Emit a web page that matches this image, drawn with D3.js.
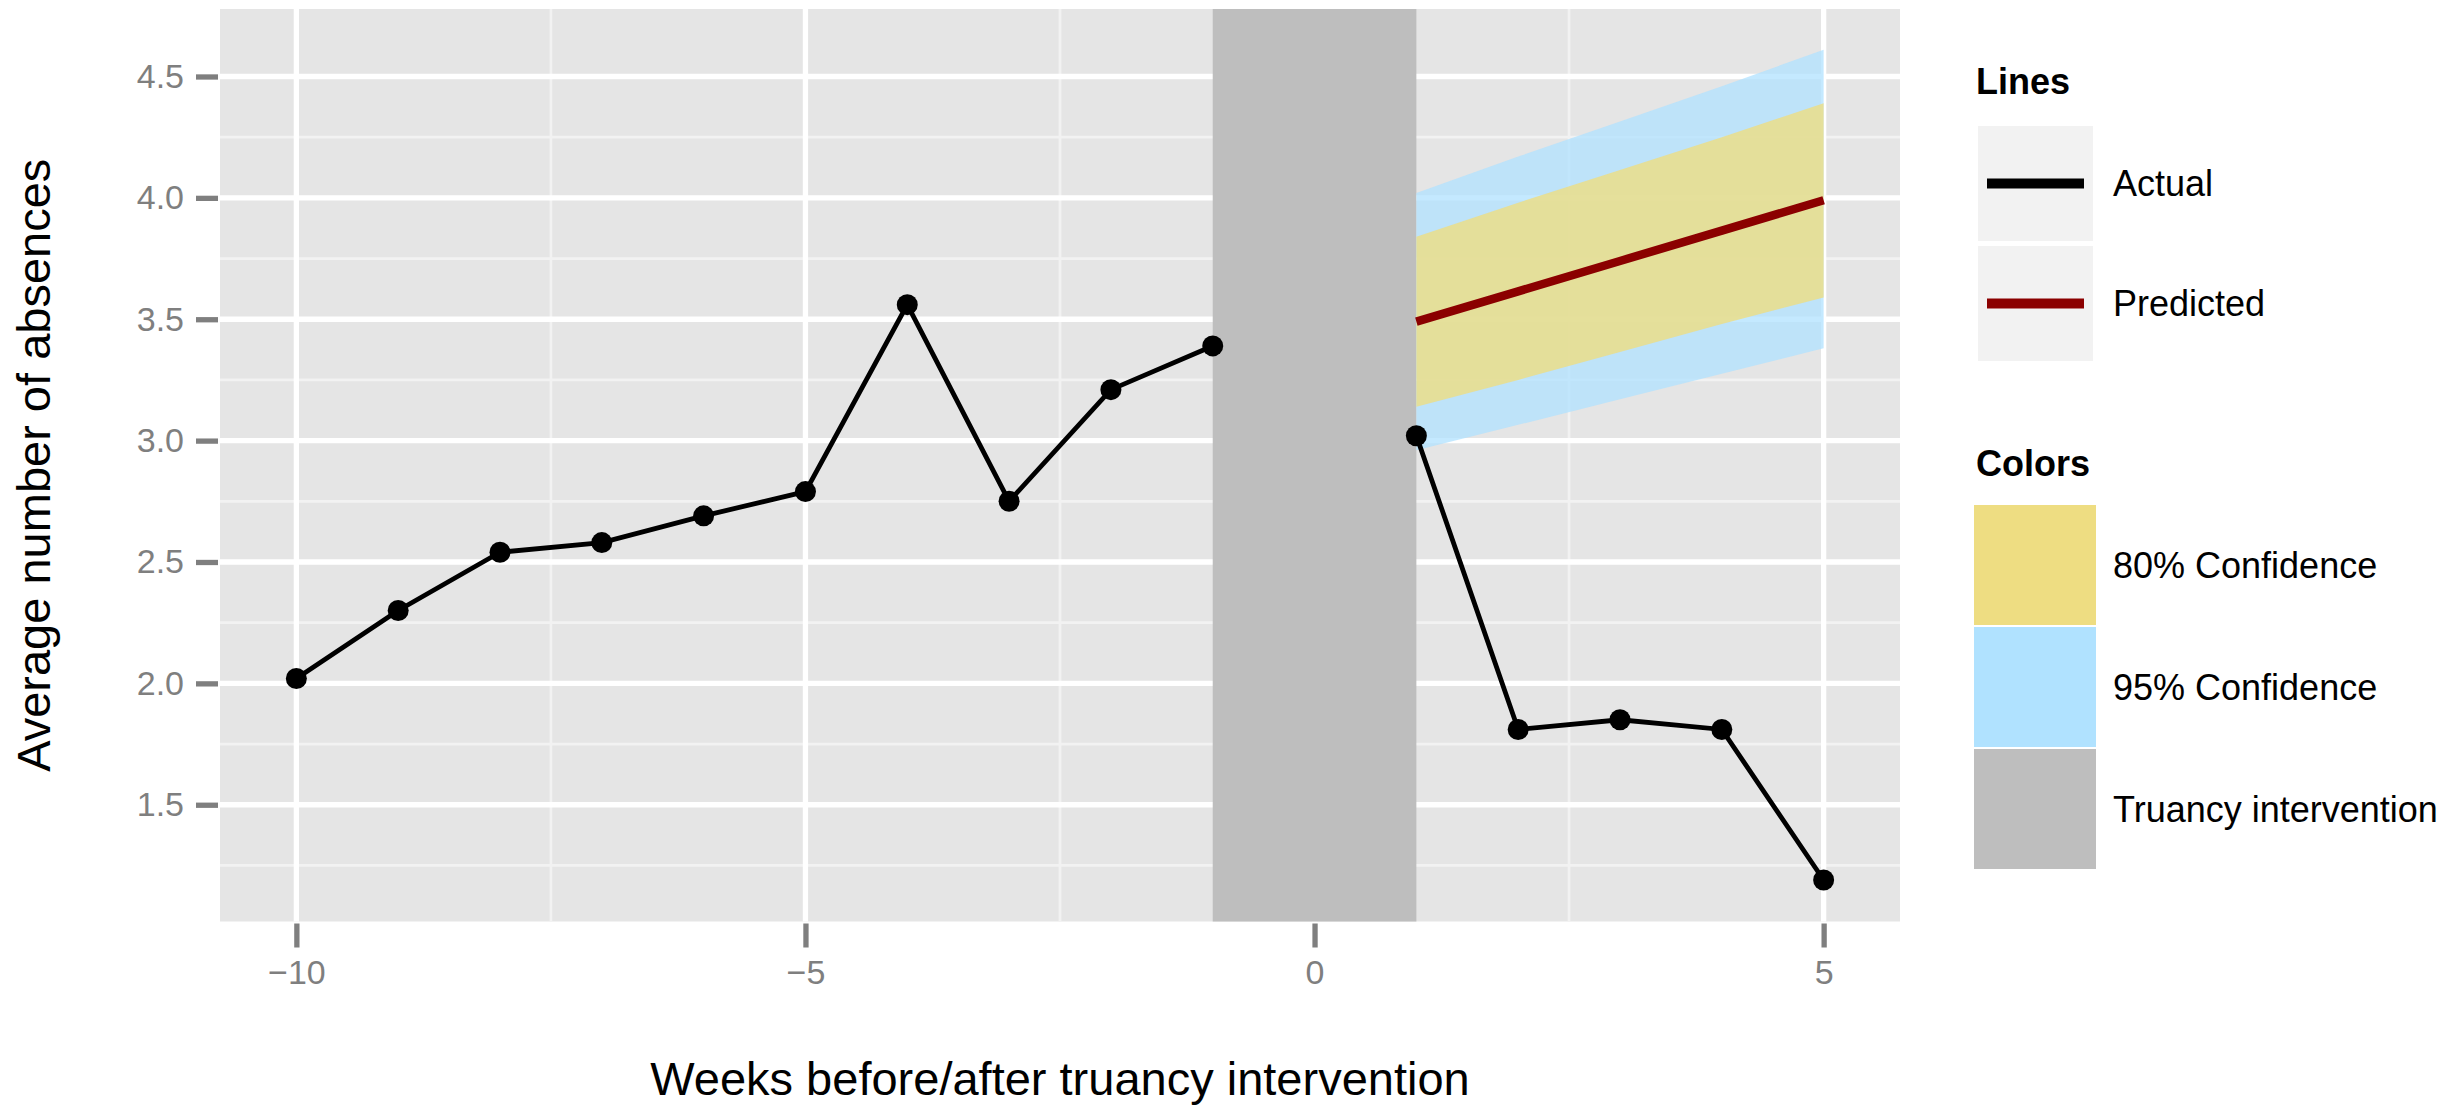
<!DOCTYPE html>
<html><head><meta charset="utf-8">
<script src="https://d3js.org/d3.v7.min.js"></script>
<style>
body{margin:0;background:#fff;}
text{font-family:"Liberation Sans",Arial,Helvetica,sans-serif;}
</style></head>
<body><svg id="chart"></svg>
<script>
// observed weekly averages (week 0 is the intervention itself)
const weeks=[-10,-9,-8,-7,-6,-5,-4,-3,-2,-1,1,2,3,4,5];
const absences=[2.02,2.30,2.54,2.58,2.69,2.79,3.56,2.75,3.21,3.39,3.02,1.81,1.85,1.81,1.19];
// forecast after the intervention
const predWeeks=[1,2,3,4,5];
const predicted=[3.49,3.615,3.74,3.865,3.99];
const lo80=[3.14,3.25,3.365,3.48,3.59];
const hi80=[3.84,3.98,4.115,4.25,4.39];
const lo95=[2.96,3.065,3.17,3.275,3.38];
const hi95=[4.02,4.17,4.315,4.46,4.61];
const intervention=[-1,1];
const xTicks=[-10,-5,0,5], xMinor=[-7.5,-2.5,2.5];
const yTicks=[1.5,2.0,2.5,3.0,3.5,4.0,4.5], yMinor=[1.25,1.75,2.25,2.75,3.25,3.75,4.25];
const lineKeys=['Actual','Predicted'], lineColors=['#000000','#8b0000'];
const fillKeys=['80% Confidence','95% Confidence','Truancy intervention'];
const fillColors=['#eedd82','#b0e2ff','#bebebe'];

const W=2446,H=1110;
const svg=d3.select('#chart').attr('width',W).attr('height',H);
const x=d3.scaleLinear().domain([-10.75,5.75]).range([220,1900]);
const y=d3.scaleLinear().domain([1.019,4.778]).range([921.5,9]);

// panel + grid
svg.append('rect').attr('x',x.range()[0]).attr('y',y.range()[1])
   .attr('width',x.range()[1]-x.range()[0]).attr('height',y.range()[0]-y.range()[1])
   .attr('fill','#e5e5e5');
const grid=svg.append('g');
grid.selectAll('.hmin').data(yMinor).join('line')
   .attr('x1',x.range()[0]).attr('x2',x.range()[1]).attr('y1',y).attr('y2',y)
   .attr('stroke','#f2f2f2').attr('stroke-width',2.7);
grid.selectAll('.vmin').data(xMinor).join('line')
   .attr('y1',y.range()[0]).attr('y2',y.range()[1]).attr('x1',x).attr('x2',x)
   .attr('stroke','#f2f2f2').attr('stroke-width',2.7);
grid.selectAll('.hmaj').data(yTicks).join('line')
   .attr('x1',x.range()[0]).attr('x2',x.range()[1]).attr('y1',y).attr('y2',y)
   .attr('stroke','#fff').attr('stroke-width',5.3);
grid.selectAll('.vmaj').data(xTicks).join('line')
   .attr('y1',y.range()[0]).attr('y2',y.range()[1]).attr('x1',x).attr('x2',x)
   .attr('stroke','#fff').attr('stroke-width',5.3);

// intervention period
svg.append('rect').attr('x',x(intervention[0])).attr('y',y.range()[1])
   .attr('width',x(intervention[1])-x(intervention[0]))
   .attr('height',y.range()[0]-y.range()[1]).attr('fill','#bebebe');

// confidence bands
const pred=predWeeks.map((w,i)=>({w,p:predicted[i],l8:lo80[i],h8:hi80[i],l9:lo95[i],h9:hi95[i]}));
svg.append('path').datum(pred)
   .attr('d',d3.area().x(d=>x(d.w)).y0(d=>y(d.l9)).y1(d=>y(d.h9)))
   .attr('fill','#b0e2ff').attr('fill-opacity',0.75);
svg.append('path').datum(pred)
   .attr('d',d3.area().x(d=>x(d.w)).y0(d=>y(d.l8)).y1(d=>y(d.h8)))
   .attr('fill','#eedd82').attr('fill-opacity',0.8);
svg.append('path').datum(pred)
   .attr('d',d3.line().x(d=>x(d.w)).y(d=>y(d.p)))
   .attr('fill','none').attr('stroke','#8b0000').attr('stroke-width',8.5);

// actual series, broken across the intervention
const obs=weeks.map((w,i)=>({w,v:absences[i]}));
const line=d3.line().x(d=>x(d.w)).y(d=>y(d.v));
[obs.filter(d=>d.w<0),obs.filter(d=>d.w>0)].forEach(seg=>{
  svg.append('path').datum(seg).attr('d',line)
     .attr('fill','none').attr('stroke','#000').attr('stroke-width',4.8);
});
svg.selectAll('.pt').data(obs).join('circle')
   .attr('cx',d=>x(d.w)).attr('cy',d=>y(d.v)).attr('r',10.5).attr('fill','#000');

// axes
const xa=svg.append('g').attr('transform',`translate(0,${y.range()[0]})`)
   .call(d3.axisBottom(x).tickValues(xTicks).tickSize(26).tickPadding(12)
         .tickFormat(d=>d<0?'\u2212'+Math.abs(d):d));
const ya=svg.append('g').attr('transform',`translate(${x.range()[0]},0)`)
   .call(d3.axisLeft(y).tickValues(yTicks).tickSize(24).tickPadding(12)
         .tickFormat(d3.format('.1f')));
[xa,ya].forEach(a=>{
  a.select('.domain').remove();
  a.selectAll('.tick line').attr('stroke','#7f7f7f').attr('stroke-width',5.3);
  a.selectAll('.tick text').attr('fill','#7f7f7f').attr('font-size',34)
   .attr('font-family','"Liberation Sans",Arial,sans-serif');
});
xa.selectAll('.tick line').attr('y1',2);
ya.selectAll('.tick line').attr('x1',-2);

svg.append('text').attr('x',1060).attr('y',1095).attr('text-anchor','middle')
   .attr('font-size',47).text('Weeks before/after truancy intervention');
svg.append('text').attr('transform',`translate(50,${(y.range()[0]+y.range()[1])/2}) rotate(-90)`)
   .attr('text-anchor','middle').attr('font-size',47).text('Average number of absences');

// legends
const lg=svg.append('g');
lg.append('text').attr('x',1976).attr('y',94).attr('font-size',36).attr('font-weight','bold').text('Lines');
lineKeys.forEach((k,i)=>{
  const top=126+i*120;
  lg.append('rect').attr('x',1978).attr('y',top).attr('width',115).attr('height',115).attr('fill','#f2f2f2');
  lg.append('line').attr('x1',1987).attr('x2',2084).attr('y1',top+57.5).attr('y2',top+57.5)
    .attr('stroke',lineColors[i]).attr('stroke-width',10);
  lg.append('text').attr('x',2113).attr('y',top+57.5).attr('dy','0.36em').attr('font-size',36).text(k);
});
lg.append('text').attr('x',1976).attr('y',476).attr('font-size',36).attr('font-weight','bold').text('Colors');
fillKeys.forEach((k,i)=>{
  const top=505+i*122;
  lg.append('rect').attr('x',1974).attr('y',top).attr('width',122).attr('height',120).attr('fill',fillColors[i]);
  lg.append('text').attr('x',2113).attr('y',top+60).attr('dy','0.36em').attr('font-size',36).text(k);
});
</script></body></html>
